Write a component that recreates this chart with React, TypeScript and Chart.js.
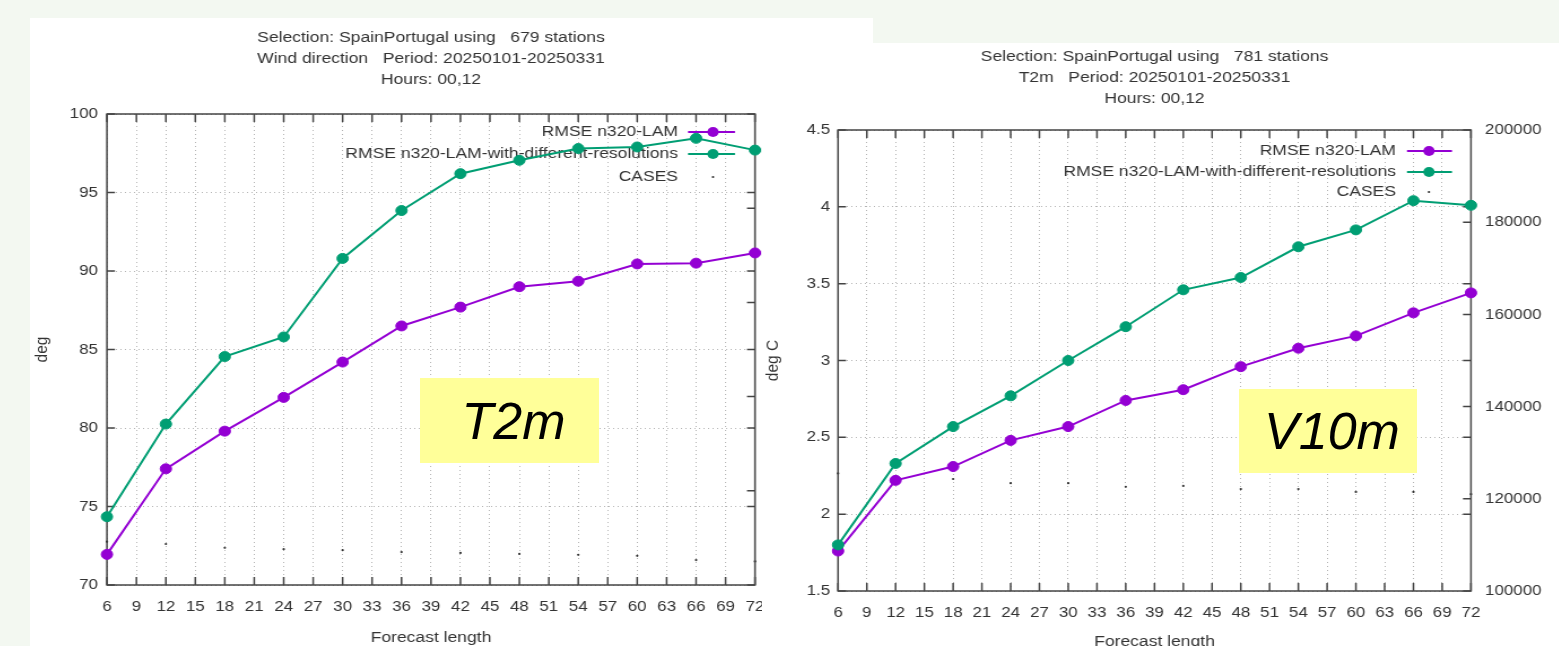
import React, { useEffect, useRef } from 'react';
import { Chart, registerables } from 'chart.js';

Chart.register(...registerables);

// ---------- data ----------
const forecastHours = [6, 12, 18, 24, 30, 36, 42, 48, 54, 60, 66, 72];
const xTickValues = [6, 9, 12, 15, 18, 21, 24, 27, 30, 33, 36, 39, 42, 45, 48, 51, 54, 57, 60, 63, 66, 69, 72];
const casesTickValues = [100000, 120000, 140000, 160000, 180000, 200000];

const seriesLabels = ['RMSE n320-LAM', 'RMSE n320-LAM-with-different-resolutions', 'CASES'];

// left panel
const windTitle = ['Selection: SpainPortugal using   679 stations', 'Wind direction   Period: 20250101-20250331', 'Hours: 00,12'];
const windYTicks = [70, 75, 80, 85, 90, 95, 100];
const windLam = [71.95, 77.4, 79.8, 81.95, 84.2, 86.5, 87.7, 89.0, 89.35, 90.45, 90.5, 91.15];
const windLamRes = [74.35, 80.25, 84.55, 85.8, 90.8, 93.85, 96.2, 97.05, 97.8, 97.9, 98.45, 97.7];
const windCases = [109200, 108700, 107900, 107600, 107400, 107000, 106800, 106600, 106400, 106200, 105300, 105000];

// right panel
const t2mTitle = ['Selection: SpainPortugal using   781 stations', 'T2m   Period: 20250101-20250331', 'Hours: 00,12'];
const t2mYTicks = [1.5, 2, 2.5, 3, 3.5, 4, 4.5];
const t2mLam = [1.76, 2.22, 2.31, 2.48, 2.57, 2.74, 2.81, 2.96, 3.08, 3.16, 3.31, 3.44];
const t2mLamRes = [1.8, 2.33, 2.57, 2.77, 3.0, 3.22, 3.46, 3.54, 3.74, 3.85, 4.04, 4.01];
const t2mCases = [125500, 124800, 124300, 123400, 123400, 122600, 122800, 122100, 122100, 121500, 121500, 121000];

// ---------- style ----------
const S = 1.13; // horizontal stretch of the original picture
const FONT = '"Liberation Sans", Arial, Helvetica, sans-serif';
const TEXT = '#333333';
const AXIS = '#444444';
const GRID = '#b4b4b4';
const PURPLE = '#9400d3';
const GREEN = '#009e73';

type Spec = {
  title: string[];
  titleOffsets: number[];
  yTitle: string;
  yTitlePad: number;
  yMin: number;
  yMax: number;
  yTicks: number[];
  lam: number[];
  lamRes: number[];
  cases: number[];
  legendRows: number[];
  legendText: number;
  legendFrom: number;
  legendTo: number;
  legendMarker: number;
  width: number;
  height: number;
  areaLeft: number;
  areaRight: number;
  areaTop: number;
  areaBottom: number;
  yPad: number;
  y2Pad: number;
};

const windSpec: Spec = {
  title: windTitle,
  titleOffsets: [76, 55, 34],
  yTitle: 'deg',
  yTitlePad: 1,
  yMin: 70,
  yMax: 100,
  yTicks: windYTicks,
  lam: windLam,
  lamRes: windLamRes,
  cases: windCases,
  legendRows: [18, 40, 63],
  legendText: 77,
  legendFrom: 67,
  legendTo: 20,
  legendMarker: 42,
  width: 746,
  height: 629,
  areaLeft: 68.1,
  areaRight: 641.6,
  areaTop: 96,
  areaBottom: 567,
  yPad: 8,
  y2Pad: 12.4,
};

const t2mSpec: Spec = {
  title: t2mTitle,
  titleOffsets: [73, 52, 31],
  yTitle: 'deg C',
  yTitlePad: 0,
  yMin: 1.5,
  yMax: 4.5,
  yTicks: t2mYTicks,
  lam: t2mLam,
  lamRes: t2mLamRes,
  cases: t2mCases,
  legendRows: [21, 42, 62],
  legendText: 75,
  legendFrom: 64,
  legendTo: 19,
  legendMarker: 42,
  width: 705,
  height: 608,
  areaLeft: 67.3,
  areaRight: 627.4,
  areaTop: 87,
  areaBottom: 548,
  yPad: 7,
  y2Pad: 12.4,
};

function buildConfig(spec: Spec): any {
  const pts = (vals: number[]) => forecastHours.map((x, i) => ({ x, y: vals[i] }));
  const tickFont = { family: FONT, size: 15 };
  const titleFont = { family: FONT, size: 15.5 };

  const gnuplotPlugin = {
    id: 'gnuplotDecor',
    beforeDatasetsDraw(chart: any) {
      const { ctx, chartArea: a, scales } = chart;
      const xs = scales.x;
      const ys = scales.y;
      const y2s = scales.y2;
      const tv = 8;
      const th = 8 / S;
      ctx.save();
      ctx.strokeStyle = AXIS;
      ctx.lineWidth = 1.5;
      ctx.setLineDash([]);
      ctx.beginPath();
      for (const t of xs.ticks) {
        const px = xs.getPixelForValue(t.value);
        ctx.moveTo(px, a.bottom);
        ctx.lineTo(px, a.bottom - tv);
        ctx.moveTo(px, a.top);
        ctx.lineTo(px, a.top + tv);
      }
      for (const t of ys.ticks) {
        const py = ys.getPixelForValue(t.value);
        ctx.moveTo(a.left, py);
        ctx.lineTo(a.left + th, py);
        ctx.moveTo(a.right, py);
        ctx.lineTo(a.right - th, py);
      }
      for (const t of y2s.ticks) {
        const py = y2s.getPixelForValue(t.value);
        ctx.moveTo(a.right, py);
        ctx.lineTo(a.right - th, py);
      }
      ctx.stroke();
      ctx.strokeRect(a.left, a.top, a.right - a.left, a.bottom - a.top);

      // key (legend), gnuplot style: right-aligned text followed by a sample
      ctx.font = `15.5px ${FONT}`;
      ctx.textAlign = 'right';
      ctx.textBaseline = 'middle';
      chart.data.datasets.forEach((ds: any, i: number) => {
        const ry = a.top + spec.legendRows[i];
        ctx.fillStyle = TEXT;
        ctx.fillText(ds.label, a.right - spec.legendText / S, ry);
        if (ds.showLine !== false) {
          ctx.strokeStyle = ds.borderColor;
          ctx.lineWidth = ds.borderWidth;
          ctx.beginPath();
          ctx.moveTo(a.right - spec.legendFrom / S, ry);
          ctx.lineTo(a.right - spec.legendTo / S, ry);
          ctx.stroke();
        }
        ctx.fillStyle = ds.pointBackgroundColor;
        ctx.beginPath();
        ctx.arc(a.right - spec.legendMarker / S, ry, ds.pointRadius, 0, Math.PI * 2);
        ctx.fill();
      });
      ctx.restore();
    },
    afterDraw(chart: any) {
      const { ctx, chartArea: a } = chart;
      ctx.save();
      ctx.font = `15.5px ${FONT}`;
      ctx.fillStyle = TEXT;
      ctx.textAlign = 'center';
      ctx.textBaseline = 'middle';
      const cx = (a.left + a.right) / 2;
      spec.title.forEach((line, i) => {
        ctx.fillText(line, cx, a.top - spec.titleOffsets[i]);
      });
      ctx.restore();
    },
  };

  return {
    type: 'line',
    data: {
      datasets: [
        {
          label: seriesLabels[0],
          data: pts(spec.lam),
          yAxisID: 'y',
          borderColor: PURPLE,
          backgroundColor: PURPLE,
          pointBackgroundColor: PURPLE,
          pointBorderColor: PURPLE,
          borderWidth: 2,
          pointRadius: 5,
          pointBorderWidth: 1,
          order: 1,
          clip: false,
        },
        {
          label: seriesLabels[1],
          data: pts(spec.lamRes),
          yAxisID: 'y',
          borderColor: GREEN,
          backgroundColor: GREEN,
          pointBackgroundColor: GREEN,
          pointBorderColor: GREEN,
          borderWidth: 2,
          pointRadius: 5,
          pointBorderWidth: 1,
          order: 0,
          clip: false,
        },
        {
          label: seriesLabels[2],
          data: pts(spec.cases),
          yAxisID: 'y2',
          showLine: false,
          borderColor: '#333333',
          backgroundColor: '#333333',
          pointBackgroundColor: '#333333',
          pointBorderColor: '#333333',
          borderWidth: 0,
          pointRadius: 1.1,
          pointBorderWidth: 0,
          order: 2,
          clip: false,
        },
      ],
    },
    options: {
      responsive: false,
      maintainAspectRatio: false,
      animation: false,
      devicePixelRatio: 1,
      layout: { padding: { left: 0, right: 0, top: spec.areaTop, bottom: 0 } },
      plugins: {
        legend: { display: false },
        title: { display: false },
        tooltip: { enabled: false },
      },
      scales: {
        x: {
          type: 'linear',
          min: 6,
          max: 72,
          afterBuildTicks: (s: any) => {
            s.ticks = xTickValues.map((v) => ({ value: v }));
          },
          afterFit: (s: any) => {
            s.height = spec.height - spec.areaBottom;
          },
          ticks: {
            font: tickFont,
            color: TEXT,
            padding: 13,
            autoSkip: false,
            maxRotation: 0,
            minRotation: 0,
            callback: (v: any) => String(v),
          },
          grid: { color: GRID, lineWidth: 1, drawTicks: false },
          border: { display: false, dash: [1, 3] },
          title: { display: true, text: 'Forecast length', font: titleFont, color: TEXT, padding: { top: 0, bottom: 0 } },
        },
        y: {
          type: 'linear',
          position: 'left',
          min: spec.yMin,
          max: spec.yMax,
          afterBuildTicks: (s: any) => {
            s.ticks = spec.yTicks.map((v) => ({ value: v }));
          },
          afterFit: (s: any) => {
            s.width = spec.areaLeft;
          },
          ticks: { font: tickFont, color: TEXT, padding: spec.yPad, callback: (v: any) => String(v) },
          grid: { color: GRID, lineWidth: 1, drawTicks: false },
          border: { display: false, dash: [1, 3] },
          title: { display: true, text: spec.yTitle, font: titleFont, color: TEXT, padding: { top: spec.yTitlePad, bottom: 0 } },
        },
        y2: {
          type: 'linear',
          position: 'right',
          min: 100000,
          max: 200000,
          afterBuildTicks: (s: any) => {
            s.ticks = casesTickValues.map((v) => ({ value: v }));
          },
          afterFit: (s: any) => {
            s.width = spec.width - spec.areaRight;
          },
          ticks: { font: tickFont, color: TEXT, padding: spec.y2Pad, callback: (v: any) => String(v) },
          grid: { drawOnChartArea: false, drawTicks: false },
          border: { display: false },
        },
      },
    },
    plugins: [gnuplotPlugin],
  };
}

function GnuplotPanel({ spec }: { spec: Spec }) {
  const ref = useRef<HTMLCanvasElement | null>(null);
  useEffect(() => {
    if (!ref.current) return;
    const chart = new Chart(ref.current, buildConfig(spec));
    return () => chart.destroy();
  }, [spec]);
  return (
    <canvas
      ref={ref}
      width={spec.width}
      height={spec.height}
      style={{
        display: 'block',
        width: spec.width,
        height: spec.height,
        transform: `scaleX(${S})`,
        transformOrigin: '0 0',
      }}
    />
  );
}

const labelBox: React.CSSProperties = {
  position: 'absolute',
  background: '#ffff99',
  display: 'flex',
  alignItems: 'center',
  justifyContent: 'center',
  fontFamily: FONT,
  fontStyle: 'italic',
  fontSize: 52,
  color: '#000',
  lineHeight: 1,
};

export default function App() {
  return (
    <div
      style={{
        position: 'fixed',
        left: 0,
        top: 0,
        width: 1559,
        height: 646,
        overflow: 'hidden',
        background: '#f3f8f1',
      }}
    >
      <div style={{ position: 'absolute', left: 30, top: 18, width: 843, height: 629, background: '#fff', overflow: 'hidden' }}>
        <GnuplotPanel spec={windSpec} />
      </div>
      <div style={{ position: 'absolute', left: 762, top: 43, width: 797, height: 608, background: '#fff', overflow: 'hidden' }}>
        <GnuplotPanel spec={t2mSpec} />
      </div>
      <div style={{ ...labelBox, left: 420, top: 378, width: 179, height: 85 }}>
        <span style={{ paddingLeft: 8 }}>T2m</span>
      </div>
      <div style={{ ...labelBox, left: 1239, top: 389, width: 178, height: 84 }}>
        <span style={{ paddingLeft: 8 }}>V10m</span>
      </div>
    </div>
  );
}
